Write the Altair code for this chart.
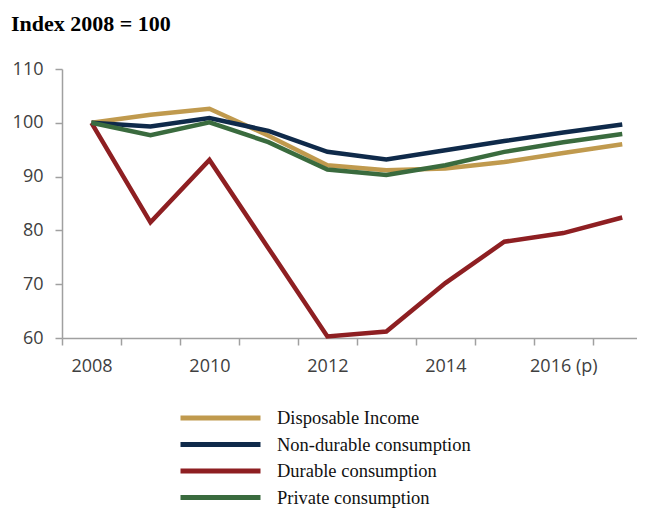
import altair as alt
import pandas as pd

years = [2008, 2009, 2010, 2011, 2012, 2013, 2014, 2015, 2016, 2017]
series_names = ["Disposable Income", "Non-durable consumption", "Durable consumption", "Private consumption"]
disposable = [100, 101.5, 102.6, 97.6, 92.1, 91.2, 91.5, 92.7, 94.4, 96.0]
nondurable = [100, 99.3, 100.9, 98.5, 94.6, 93.2, 94.9, 96.6, 98.2, 99.7]
durable = [100, 81.5, 93.1, 76.7, 60.3, 61.2, 70.2, 77.9, 79.5, 82.4]
private = [100, 97.7, 100.1, 96.4, 91.3, 90.3, 92.1, 94.6, 96.4, 97.9]
colors = ["#C09A4E", "#0F2A4A", "#8E1F22", "#3A6B3E"]
tick_values = [2007.5, 2008.5, 2009.5, 2010.5, 2011.5, 2012.5, 2013.5, 2014.5, 2015.5, 2016.5]

rows = []
for name, vals in zip(series_names, [disposable, nondurable, durable, private]):
    for y, v in zip(years, vals):
        rows.append({"year": y, "value": v, "series": name})
df = pd.DataFrame(rows)

chart = alt.Chart(df).mark_line(strokeWidth=4.5).encode(
    x=alt.X("year:Q", scale=alt.Scale(domain=[2007.5, 2017.25], nice=False, zero=False),
            axis=alt.Axis(values=tick_values, title=None, grid=False,
                          labelExpr="datum.value % 2 == 1.5 ? (datum.value == 2015.5 ? '2016 (p)' : toString(datum.value + 0.5)) : ''",
                          labelOffset=29.5, labelFont="Open Sans", labelFontSize=18, labelColor="#404040",
                          labelPadding=12, tickSize=7, tickColor="#A0A0A0", domainColor="#A0A0A0",
                          domainWidth=1.5, tickWidth=1.5, labelFlush=False, labelOverlap=False)),
    y=alt.Y("value:Q", scale=alt.Scale(domain=[60, 110], nice=False, zero=False),
            axis=alt.Axis(values=[60, 70, 80, 90, 100, 110], title=None, grid=False,
                          labelFont="Open Sans", labelFontSize=18, labelColor="#404040",
                          labelPadding=12, tickSize=7, tickColor="#A0A0A0", domainColor="#A0A0A0",
                          domainWidth=1.5, tickWidth=1.5)),
    color=alt.Color("series:N", scale=alt.Scale(domain=series_names, range=colors),
                    sort=series_names,
                    legend=alt.Legend(title=None, orient="none", legendX=116, legendY=336,
                                      direction="vertical", symbolType="stroke", symbolSize=6400,
                                      symbolStrokeWidth=5, labelFont="Liberation Serif", labelFontSize=18.5,
                                      labelColor="#111111", labelOffset=14, clipHeight=26, rowPadding=0.5,
                                      labelLimit=400, padding=0)),
).properties(
    width=575, height=269,
    autosize=alt.AutoSizeParams(type="none"),
    padding={"left": 54, "top": 61, "right": 0, "bottom": 172},
    title=alt.TitleParams("Index 2008 = 100", anchor="start", frame="group", font="Liberation Serif",
                          fontSize=22, fontWeight="bold", color="#000000", dx=-51, offset=24),
).configure_view(stroke=None)

chart.save("out.html", embed_options={"renderer": "svg", "actions": False})
